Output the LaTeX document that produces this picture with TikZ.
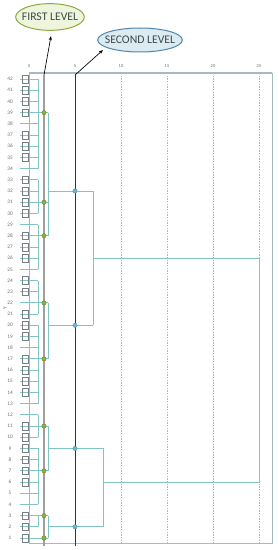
\documentclass[tikz,border=0pt]{standalone}
\usepackage{fontspec}
\setmainfont{Carlito}
\usetikzlibrary{arrows.meta}
\definecolor{dendro}{HTML}{80C4C4}
\definecolor{frameline}{HTML}{A5BABD}
\definecolor{greendot}{HTML}{8DB33A}
\definecolor{bluedot}{HTML}{66B8DE}
\definecolor{firstbg}{HTML}{EFF5DC}
\definecolor{firstrim}{HTML}{8CAA40}
\definecolor{secondbg}{HTML}{DCEAF2}
\definecolor{secondrim}{HTML}{4F88AA}
\definecolor{labtext}{HTML}{3C4A4C}
\newcommand{\rowy}[1]{538-(#1-1)*11.195}
\newcommand{\colx}[1]{29+#1*9.2}

\begin{document}
\begin{tikzpicture}[x=0.3mm, y=-0.3mm,
    link/.style={dendro, line width=0.25mm},
    grid/.style={gray!60, line width=0.15mm, dash pattern=on 0.4mm off 0.4mm},
    rowlab/.style={font=\fontsize{4.5}{5}\selectfont, text=labtext!80, inner sep=0pt},
    ticklab/.style={font=\fontsize{3.8}{4}\selectfont, text=labtext!80, inner sep=0pt},
    leafbox/.style={draw=labtext!70, line width=0.12mm, minimum width=1.7mm, minimum height=2.3mm, inner sep=0pt},
    greenmark/.style={fill=greendot, draw=greendot!70!black, line width=0.1mm},
    bluemark/.style={fill=bluedot, draw=secondrim, line width=0.1mm},
    levelname/.style={font=\fontsize{10}{12}\selectfont, text=labtext, inner sep=0pt}]
    \useasboundingbox (0,0) rectangle (277,550);

    % Grid and frame
    \foreach \k in {10,15,20,25}
        \draw[grid] ({\colx{\k}},73) -- ({\colx{\k}},543);
    \foreach \k in {0,5,10,15,20,25}
        \node[ticklab] (t\k) at ({\colx{\k}},66) {\k};
    \draw[frameline, line width=0.15mm] (29,73) -- (29,543) -- (272,543) -- (272,73);
    \draw[frameline, line width=0.5mm] (29,73) -- (272,73);
    \node[rowlab, rotate=90] (yaxis) at (5,308) {Y};

    % Leaves
    \foreach \i in {1,...,42} {
        \node[rowlab] (r\i) at (10,{\rowy{\i}}) {\i};
        \draw[link] (20,{\rowy{\i}}) -- (38,{\rowy{\i}});
    }
    \foreach \i in {42,41,40,39,37,36,35,33,32,31,30,28,27,26,24,23,21,20,19,17,16,15,14,11,10,9,8,7,6,3,2,1}
        \node[leafbox] (b\i) at (25,{\rowy{\i}}) {};

    % First merges
    \foreach \a/\b/\r in {42/34/39, 33/30/31, 29/25/28, 24/21/22, 20/13/17, 12/10/11, 9/4/7, 3/2/3} {
        \draw[link] (38,{\rowy{\a}}) -- (38,{\rowy{\b}});
        \draw[link] (29,{\rowy{\r}}) -- (48,{\rowy{\r}});
    }
    \draw[link] (29,{\rowy{1}}) -- (48,{\rowy{1}});

    % Second merges
    \foreach \a/\b/\o/\e in {39/28/32/93, 22/17/20/93, 11/7/9/103, 3/1/2/103} {
        \draw[link] (48,{\rowy{\a}}) -- (48,{\rowy{\b}});
        \draw[link] (48,{\rowy{\o}}) -- (\e,{\rowy{\o}});
    }
    \draw[link] (93,{\rowy{32}}) -- (93,{\rowy{20}});
    \draw[link] (103,{\rowy{9}}) -- (103,{\rowy{2}});
    \draw[link] (93,{\rowy{26}}) -- ({\colx{25}},{\rowy{26}}) -- ({\colx{25}},{\rowy{6}}) -- (103,{\rowy{6}});

    % Cut levels
    \coordinate (lv1) at (44,75);
    \coordinate (lv2) at (75,75);
    \draw[gray!75, line width=0.55mm] (lv1) -- (44,546);
    \draw[black!80, line width=0.28mm] (lv2) -- (75,546);
    \foreach \r in {39,31,28,22,17,11,7,3,1}
        \filldraw[greenmark] (44,{\rowy{\r}}) circle (0.65mm);
    \foreach \r in {32,20,9,2}
        \filldraw[bluemark] (75,{\rowy{\r}}) circle (0.65mm);

    % Level names
    \filldraw[fill=firstbg, draw=firstrim, line width=0.3mm] (50,17) ellipse [x radius=10.3mm, y radius=4mm];
    \node[levelname] (first) at (50,17) {FIRST LEVEL};
    \filldraw[fill=secondbg, draw=secondrim, line width=0.3mm] (140,40) ellipse [x radius=12.7mm, y radius=3.6mm];
    \node[levelname] (second) at (140,40) {SECOND LEVEL};
    \draw[-{Stealth[length=1.3mm]}, line width=0.2mm] (lv1) -- (51,36);
    \draw[-{Stealth[length=1.3mm]}, line width=0.2mm] (lv2) -- (103,50);
\end{tikzpicture}
\end{document}
